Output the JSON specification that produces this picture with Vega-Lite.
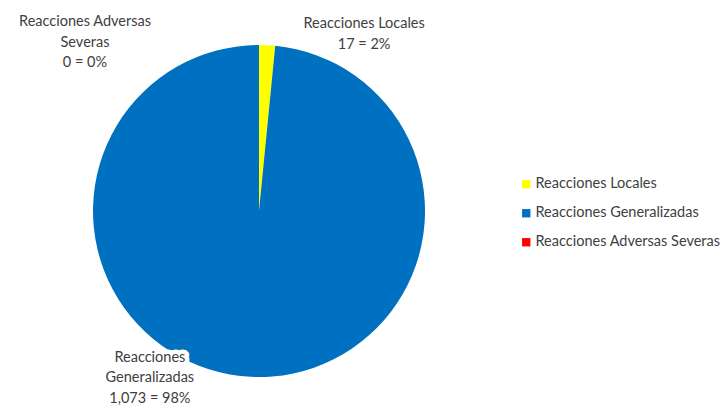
{
  "$schema": "https://vega.github.io/schema/vega-lite/v6.json",
  "width": 518,
  "height": 406,
  "padding": {"top": 8, "left": 0, "right": 0, "bottom": 0},
  "background": "white",
  "config": {
    "view": {"stroke": null},
    "font": "Lato",
    "text": {"font": "Lato"}
  },
  "data": {
    "values": [
      {"categoria": "Reacciones Locales", "casos": 17, "etiqueta": "Reacciones Locales|17 = 2%"},
      {"categoria": "Reacciones Generalizadas", "casos": 1073, "etiqueta": "Reacciones|Generalizadas|1,073 = 98%"},
      {"categoria": "Reacciones Adversas Severas", "casos": 0, "etiqueta": "Reacciones Adversas|Severas|0 = 0%"}
    ]
  },
  "encoding": {
    "theta": {"field": "casos", "type": "quantitative", "stack": true},
    "order": {"field": "categoria", "type": "ordinal", "sort": "descending"},
    "color": {
      "field": "categoria",
      "type": "nominal",
      "scale": {
        "domain": ["Reacciones Locales", "Reacciones Generalizadas", "Reacciones Adversas Severas"],
        "range": ["#FFFF00", "#0070C0", "#FF0000"]
      },
      "legend": {
        "title": null,
        "orient": "none",
        "legendX": 519,
        "legendY": 169,
        "symbolType": "square",
        "symbolSize": 70,
        "symbolStrokeWidth": 0,
        "labelFont": "Lato",
        "labelFontSize": 14.5,
        "labelColor": "#404040",
        "labelOffset": 2,
        "rowPadding": 14,
        "labelLimit": 400
      }
    }
  },
  "layer": [
    {"mark": {"type": "arc", "outerRadius": 166}},
    {
      "mark": {"type": "text", "radius": 166, "dx": -101, "dy": -19, "lineBreak": "|", "fontSize": 14.5, "lineHeight": 20.5, "align": "center", "baseline": "middle", "stroke": "white", "strokeWidth": 9, "strokeJoin": "round"},
      "encoding": {
        "color": {"value": "white"},
        "text": {"condition": {"test": "datum.categoria === 'Reacciones Generalizadas'", "field": "etiqueta"}, "value": ""}
      }
    },
    {
      "mark": {"type": "text", "radius": 166, "dx": 97, "dy": -21, "lineBreak": "|", "fontSize": 14.5, "lineHeight": 20.5, "align": "center", "baseline": "middle"},
      "encoding": {
        "color": {"value": "#404040"},
        "text": {"condition": {"test": "datum.categoria === 'Reacciones Locales'", "field": "etiqueta"}, "value": ""}
      }
    },
    {
      "mark": {"type": "text", "radius": 166, "dx": -174, "dy": -23, "lineBreak": "|", "fontSize": 14.5, "lineHeight": 20.5, "align": "center", "baseline": "middle"},
      "encoding": {
        "color": {"value": "#404040"},
        "text": {"condition": {"test": "datum.categoria === 'Reacciones Adversas Severas'", "field": "etiqueta"}, "value": ""}
      }
    },
    {
      "mark": {"type": "text", "radius": 166, "dx": -101, "dy": -19, "lineBreak": "|", "fontSize": 14.5, "lineHeight": 20.5, "align": "center", "baseline": "middle"},
      "encoding": {
        "color": {"value": "#404040"},
        "text": {"condition": {"test": "datum.categoria === 'Reacciones Generalizadas'", "field": "etiqueta"}, "value": ""}
      }
    }
  ]
}
